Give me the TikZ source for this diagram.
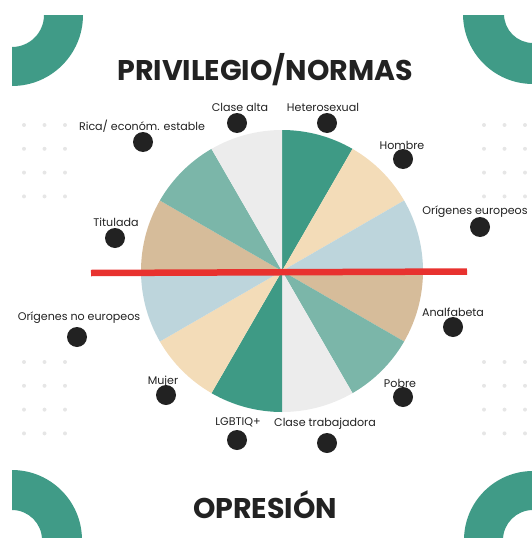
\documentclass[tikz,border=0pt]{standalone}
\usepackage{fontspec}
\setmainfont{Poppins}
\usepackage{tikz}
\definecolor{ringteal}{HTML}{409B87}
\definecolor{darkteal}{HTML}{3E9A85}
\definecolor{midteal}{HTML}{7BB6A9}
\definecolor{peach}{HTML}{F3DCB8}
\definecolor{lightblue}{HTML}{BDD5DC}
\definecolor{tan}{HTML}{D6BC9A}
\definecolor{lightgray}{HTML}{ECECEC}
\definecolor{redbar}{HTML}{E8322F}
\definecolor{ink}{HTML}{222222}
\definecolor{faintdot}{HTML}{E6E6E6}

\tikzset{
	title/.style={font=\bfseries\fontsize{28.5}{32}\selectfont, text=ink, inner sep=0pt},
	lbl/.style={font=\fontsize{11.1}{13}\selectfont, text=ink, inner sep=0pt},
	bullet/.style={circle, fill=ink, minimum size=20pt, inner sep=0pt},
	ring/.style={fill=ringteal, even odd rule},
	redline/.style={draw=redbar, line width=6.5pt}
}

\begin{document}
\begin{tikzpicture}[x=1pt, y=-1pt]
	\useasboundingbox (0, 0) rectangle (532, 538);
	% Corner rings:
	\begin{scope}
		\clip (12, 15) rectangle (532, 538);
		\fill[ring] (12, 15) circle (71) (12, 15) circle (32);
		\fill[ring] (533, 14) circle (70) (533, 14) circle (29);
		\fill[ring] (12, 540) circle (70) (12, 540) circle (30);
		\fill[ring] (533, 540) circle (69) (533, 540) circle (30);
	\end{scope}
	% Faint dot grids:
	\foreach \gx in {24, 484} {
		\foreach \gy in {125, 362} {
			\foreach \i in {0, 1, 2} {
				\foreach \j in {0, 1, 2, 3} {
					\fill[faintdot] (\gx + 20.5*\i, \gy + 23.8*\j) circle (2);
				}
			}
		}
	}
	% Titles:
	\node[title](T1) at (265, 70){PRIVILEGIO/NORMAS};
	\node[title](T2) at (265, 505){OPRESIÓN};
	% Pie slices:
	\coordinate (o) at (282, 271);
	\fill[darkteal] (o) -- +(-90:141) arc[start angle=-90, end angle=-60, radius=141] -- cycle;
	\fill[peach] (o) -- +(-60:141) arc[start angle=-60, end angle=-30, radius=141] -- cycle;
	\fill[lightblue] (o) -- +(-30:141) arc[start angle=-30, end angle=0, radius=141] -- cycle;
	\fill[tan] (o) -- +(0:141) arc[start angle=0, end angle=30, radius=141] -- cycle;
	\fill[midteal] (o) -- +(30:141) arc[start angle=30, end angle=60, radius=141] -- cycle;
	\fill[lightgray] (o) -- +(60:141) arc[start angle=60, end angle=90, radius=141] -- cycle;
	\fill[darkteal] (o) -- +(90:141) arc[start angle=90, end angle=120, radius=141] -- cycle;
	\fill[peach] (o) -- +(120:141) arc[start angle=120, end angle=150, radius=141] -- cycle;
	\fill[lightblue] (o) -- +(150:141) arc[start angle=150, end angle=180, radius=141] -- cycle;
	\fill[tan] (o) -- +(180:141) arc[start angle=180, end angle=210, radius=141] -- cycle;
	\fill[midteal] (o) -- +(210:141) arc[start angle=210, end angle=240, radius=141] -- cycle;
	\fill[lightgray] (o) -- +(240:141) arc[start angle=240, end angle=270, radius=141] -- cycle;
	% Red bar:
	\coordinate (barL) at (91, 273);
	\coordinate (barR) at (467, 271.5);
	\draw[redline] (barL) -- (barR);
	% Labels and bullets:
	\node[lbl](L1) at (240, 107){Clase alta};
	\node[bullet](B1) at (237, 123){};
	\node[lbl](L2) at (323, 107){Heterosexual};
	\node[bullet](B2) at (327, 123){};
	\node[lbl](L3) at (142, 126){Rica/ económ. estable};
	\node[bullet](B3) at (143, 142){};
	\node[lbl](L4) at (402, 145){Hombre};
	\node[bullet](B4) at (403, 159){};
	\node[lbl](L5) at (116, 222){Titulada};
	\node[bullet](B5) at (115, 238){};
	\node[lbl](L6) at (475, 212){Orígenes europeos};
	\node[bullet](B6) at (480, 227){};
	\node[lbl](L7) at (453, 312){Analfabeta};
	\node[bullet](B7) at (453, 327){};
	\node[lbl](L8) at (79, 318){Orígenes no europeos};
	\node[bullet](B8) at (77, 337){};
	\node[lbl](L9) at (163, 382){Mujer};
	\node[bullet](B9) at (166, 395){};
	\node[lbl](L10) at (400, 383){Pobre};
	\node[bullet](B10) at (403, 397){};
	\node[lbl](L11) at (238, 422){LGBTIQ+};
	\node[bullet](B11) at (237, 440){};
	\node[lbl](L12) at (325, 424){Clase trabajadora};
	\node[bullet](B12) at (327, 443){};
\end{tikzpicture}
\end{document}
